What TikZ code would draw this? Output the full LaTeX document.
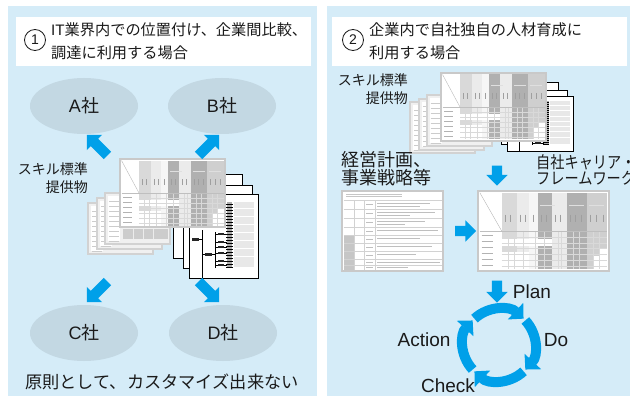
\documentclass[tikz,border=0pt]{standalone}
\usepackage{fontspec}
\setmainfont{Noto Sans CJK JP}
\newfontfamily\lat{Liberation Sans}
\newfontfamily\jpnarrow[FakeStretch=0.86]{Noto Sans CJK JP}
\usetikzlibrary{shapes.arrows,shapes.geometric,arrows.meta,calc}

\definecolor{panelbg}{HTML}{D5ECF8}
\definecolor{ovalfill}{HTML}{C3D8E3}
\definecolor{flowblue}{HTML}{00A0E9}
\definecolor{ink}{HTML}{1A1A1A}

\newcommand\fsz[2]{\fontsize{#1}{#2}\selectfont}

\tikzset{
  sheet/.style={fill=white, draw=black, line width=0.9pt},
  company/.style={ellipse, fill=ovalfill, draw=none, minimum width=108pt,
    minimum height=56pt, inner sep=0pt, text=ink, font=\fsz{18}{18}},
  label/.style={inner sep=0pt, text=ink},
  blockarrow/.style={single arrow, fill=flowblue, draw=none,
    inner xsep=0pt, inner ysep=5pt, minimum height=24pt,
    single arrow head extend=5.5pt},
  cyclearc/.style={draw=flowblue, line width=10pt,
    -{Triangle[width=22pt,length=11pt]}},
  numcircle/.style={circle, draw=ink, line width=0.8pt, minimum size=21pt,
    inner sep=0pt, text=ink, font=\lat\fsz{14}{14}},
  % grey table sheet of the skill standard
  pics/tablesheet/.style={code={
    \fill[white] (0,0) rectangle (105,68);
    \fill[gray!30] (19,1.5) rectangle (31,66.5);
    \fill[gray!16] (31,1.5) rectangle (41,66.5);
    \fill[gray!7]  (41,1.5) rectangle (48,66.5);
    \fill[gray!62] (48,1.5) rectangle (59,66.5);
    \fill[gray!16] (59,1.5) rectangle (71,66.5);
    \fill[gray!62] (71,1.5) rectangle (87,66.5);
    \fill[gray!38] (87,1.5) rectangle (103.5,66.5);
    \fill[white] (19,41) rectangle (59,47);
    \fill[white] (19,52) rectangle (41,66.5);
    \fill[white] (92,55) rectangle (103.5,66.5);
    \fill[white] (98,49) rectangle (103.5,55);
    \foreach \y in {39,44,49,54,59,64}
      \draw[gray!30, line width=0.3pt] (19,\y) -- (103.5,\y);
    \foreach \x in {24,29,36,46,53,64,67,76,81,92,97}
      \draw[gray!30, line width=0.3pt] (\x,34) -- (\x,66.5);
    \draw[gray!50, line width=0.5pt] (1.5,34) -- (103.5,34);
    \draw[gray!55, line width=0.4pt] (1.5,1.5) -- (19,34);
    \foreach \y in {38,43,48,53,58,63}
      \draw[gray!60, line width=0.8pt] (3,\y) -- (12,\y);
    \foreach \x in {22,26,34,38,44,51,55,62,66,74,78,83,90,95,100}
      \draw[gray!75, line width=0.6pt] (\x,20) -- (\x,26);
    \foreach \x in {50,73,89}
      \draw[gray!25, line width=0.8pt] (\x,12) -- (\x+12,12);
    \draw[gray!42, line width=2.5pt] (0,0) rectangle (105,68);
  }},
  % grey sheet lying behind the table sheet
  pics/greysheet/.style={code={
    \filldraw[fill=gray!12, draw=gray!35, line width=2pt] (0,0) rectangle (65,51);
    \fill[white] (3,3) rectangle (15,48);
    \foreach \y in {8,13,...,48}
      \draw[gray!40, line width=0.5pt] (4,\y) -- (14,\y);
    \foreach \y in {10,18,26,32}
      \draw[white, line width=0.6pt] (17,\y) -- (63,\y);
    \fill[gray!40] (18,36) rectangle (63,46);
    \foreach \x in {28,38,48}
      \draw[gray!15, line width=0.5pt] (\x,36) -- (\x,46);
  }},
  % the whole bundle: tree-chart sheets, grey sheets, table sheet
  pics/skillstack/.style={code={
    \filldraw[sheet] (53,15) rectangle ++(69,84);
    \filldraw[sheet] (63,26) rectangle ++(69,83);
    \begin{scope}[shift={(69,35)}]
      \filldraw[sheet] (0,0) rectangle (69,84);
      \fill[gray!18] (45,8) rectangle (65,73);
      \foreach \y in {14,22,30,38,46,54,62}
        \draw[white, line width=0.8pt] (45,\y) -- (65,\y);
      \fill[gray!65] (38,8) rectangle (43,74);
      \foreach \y in {10,13,...,73}
        \draw[black, line width=0.5pt] (37,\y) -- (44,\y);
      \draw[black, line width=0.6pt] (13,36) -- (13,84);
      \draw[black, line width=0.6pt] (6,45) -- (13,45);
      \draw[black, line width=0.6pt] (13,60) -- (26,60);
      \draw[black, line width=0.6pt] (26,38) -- (26,74);
      \foreach \y in {40,48,53,59,67,71} {
        \draw[black, line width=0.6pt] (26,\y) -- (38,\y);
        \fill[gray!30!black] (29,\y-1.3) rectangle (35,\y+1.3);
      }
      \fill[gray!30!black] (3,43.5) rectangle (10,46.5);
      \fill[gray!30!black] (16,58.5) rectangle (23,61.5);
    \end{scope}
    \foreach \dx/\dy in {-32/44,-23/39,-15/34}
      \pic at (\dx,\dy) {greysheet};
    \pic at (0,0) {tablesheet};
  }},
  % management plan sheet
  pics/plansheet/.style={code={
    \fill[white] (0,0) rectangle (101,80);
    \fill[gray!45] (1.5,44) rectangle (12,78.5);
    \foreach \y in {9,18,27,36,44,52,60,68,74}
      \draw[gray!35, line width=0.4pt] (1.5,\y) -- (99.5,\y);
    \foreach \x in {12,22,33}
      \draw[gray!35, line width=0.4pt] (\x,9) -- (\x,78.5);
    \foreach \y in {3,5.5}
      \draw[gray!45, line width=0.6pt] (4,\y) -- (60,\y);
    \foreach \y/\len in {12/80,15/70,21/85,24/60,30/75,33/55,39/88,47/70,55/82,63/66,71/90,76/58}
      \draw[gray!50, line width=0.7pt] (35,\y) -- (\len+8,\y);
    \foreach \y in {13,22,31,40,48,56,64,71,76}
      \draw[gray!50, line width=0.7pt] (24,\y) -- (31,\y);
    \draw[gray!42, line width=2.5pt] (0,0) rectangle (101,80);
  }},
}

\begin{document}
\begin{tikzpicture}[x=1pt, y=-1pt]
\useasboundingbox (0,0) rectangle (630,396);
\clip (0,0) rectangle (630,396);
\fill[white] (0,0) rectangle (630,396);

% panels and title boxes
\fill[panelbg] (8,6) rectangle (317,396);
\fill[panelbg] (327,6) rectangle (630,396);
\fill[white] (16,17) rectangle (311,66);
\fill[white] (332,17) rectangle (627,66);

% ---------------- left panel ----------------
\node[numcircle] (n1) at (35,40) {1};
\node[label, anchor=west, font=\fsz{15.2}{18}] (t1a) at (51,30) {{\lat IT}業界内での位置付け、企業間比較、};
\node[label, anchor=west, font=\fsz{15.2}{18}] (t1b) at (51,53) {調達に利用する場合};

\node[company] (coA) at (84,106) {{\lat A}社};
\node[company] (coB) at (222,106) {{\lat B}社};
\node[company] (coC) at (84,333) {{\lat C}社};
\node[company] (coD) at (223,333) {{\lat D}社};

\node[label, anchor=east, align=right, font=\fsz{14}{18}] (skL) at (88,178) {スキル標準\\提供物};
\pic at (120,159) {skillstack};

\node[blockarrow, minimum height=29pt, rotate=135] (arA) at (99,147) {};
\node[blockarrow, minimum height=29pt, rotate=45]  (arB) at (207,147) {};
\node[blockarrow, minimum height=29pt, rotate=225] (arC) at (99,290) {};
\node[blockarrow, minimum height=29pt, rotate=315] (arD) at (207,290) {};

\node[label, font=\fsz{17.2}{18}] (note) at (162,382) {原則として、カスタマイズ出来ない};

% ---------------- right panel ----------------
\node[numcircle] (n2) at (353,40) {2};
\node[label, anchor=west, font=\fsz{15.2}{18}] (t2a) at (369,30) {企業内で自社独自の人材育成に};
\node[label, anchor=west, font=\fsz{15.2}{18}] (t2b) at (369,53) {利用する場合};

\node[label, anchor=east, align=right, font=\fsz{14}{18}] (skR) at (408,89) {スキル標準\\提供物};
\pic[xscale=0.96, yscale=0.66] at (441,73) {skillstack};

\node[label, anchor=west, align=left, font=\fsz{18}{18}] (plan) at (341,169) {経営計画、\\事業戦略等};
\node[label, anchor=west, align=left, font=\jpnarrow\fsz{16.5}{15.5}] (frame) at (536,170) {自社キャリア・\\フレームワーク};

\pic at (342,191) {plansheet};
\pic[xscale=1.248, yscale=1.176] at (478,191) {tablesheet};

\node[blockarrow, minimum height=20pt, rotate=270] (arDown1) at (497,173) {};
\node[blockarrow, minimum height=21pt] (arRight) at (463,231) {};
\node[blockarrow, minimum height=22pt, rotate=270] (arDown2) at (497,289) {};

% PDCA cycle
\coordinate (cyc) at (499,345);
\foreach \a in {0,90,180,270}
  \draw[cyclearc] ($(cyc)+(-133+\a:36)$) arc[start angle=-133+\a, end angle=-47+\a, radius=36];

\node[label, font=\lat\fsz{19}{19}] (pPlan) at (532,292) {Plan};
\node[label, font=\lat\fsz{19}{19}] (pDo) at (556,340) {Do};
\node[label, font=\lat\fsz{19}{19}] (pAct) at (424,340) {Action};
\node[label, font=\lat\fsz{19}{19}] (pChk) at (448,386) {Check};
\end{tikzpicture}
\end{document}
